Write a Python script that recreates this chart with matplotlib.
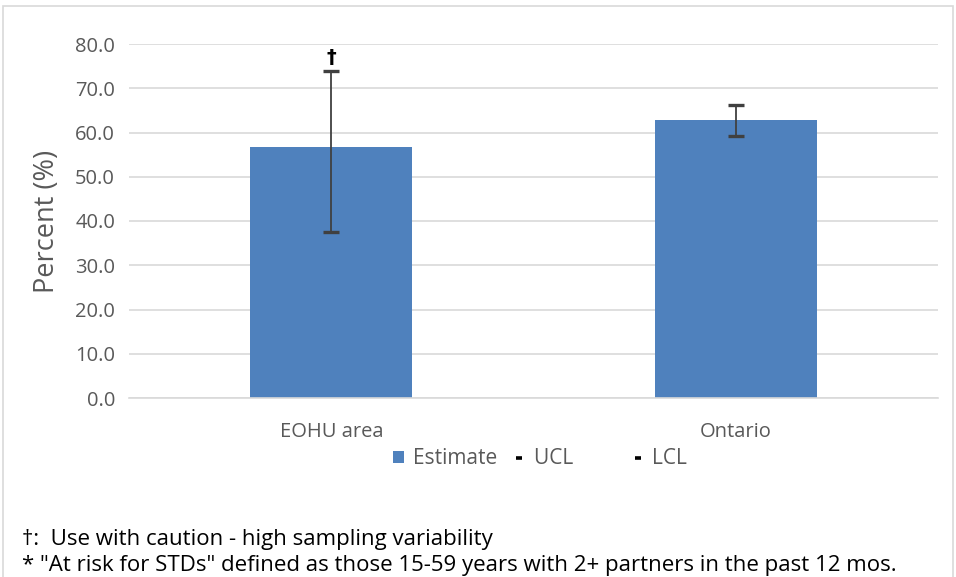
import matplotlib.pyplot as plt
from matplotlib.patches import Patch, Rectangle
from matplotlib.lines import Line2D

plt.rcParams['font.family'] = ['Open Sans', 'DejaVu Sans']

areas = ["EOHU area", "Ontario"]
estimate = [56.7, 62.8]
ucl = [74.0, 66.3]
lcl = [37.5, 59.2]
flags = ["\u2020", ""]
yticks = [0, 10, 20, 30, 40, 50, 60, 70, 80]

grey_text = '#595959'
bar_col = '#4F81BD'

fig = plt.figure(figsize=(9.56, 5.77), dpi=100)
ax = fig.add_axes([129/956, 1-398/577, (938-129)/956, (398-44)/577])

x = list(range(len(areas)))
ax.bar(x, estimate, width=0.4, color=bar_col, zorder=2)
err_lo = [e - l for e, l in zip(estimate, lcl)]
err_hi = [u - e for e, u in zip(estimate, ucl)]
ax.errorbar(x, estimate, yerr=[err_lo, err_hi], fmt='none', ecolor='#404040',
            elinewidth=1.3, capsize=5.5, capthick=2.4, zorder=3)
for i in x:
    if flags[i]:
        ax.annotate(flags[i], (i, ucl[i]), xytext=(0, 2.5), textcoords='offset points',
                    ha='center', va='bottom', fontsize=14, color='black',
                    fontweight='bold', family=['DejaVu Sans'])

ax.set_xlim(-0.5, 1.5)
ax.set_ylim(0, 80)
ax.set_yticks(yticks)
ax.set_yticklabels(["%.1f" % v for v in yticks])
ax.set_xticks(x)
ax.set_xticklabels(areas)
ax.tick_params(axis='both', length=0, labelsize=14.5, colors=grey_text, pad=10)
ax.tick_params(axis='x', pad=17)
ax.grid(axis='y', color='#D9D9D9', linewidth=1.2, zorder=0)
ax.set_axisbelow(True)
for s in ['top', 'right', 'left']:
    ax.spines[s].set_visible(False)
ax.spines['bottom'].set_color('#D9D9D9')
ax.spines['bottom'].set_linewidth(1.2)
ax.set_ylabel("Percent (%)", fontsize=19.5, color=grey_text, labelpad=10)

handles = [Patch(facecolor=bar_col, edgecolor='none'),
           Line2D([], [], color='black', marker='_', linestyle='none', markersize=5, markeredgewidth=2.6),
           Line2D([], [], color='black', marker='_', linestyle='none', markersize=5, markeredgewidth=2.6)]
fig.legend(handles, ["Estimate", "UCL" + " " * 8, "LCL"], ncol=3, loc='center left',
           bbox_to_anchor=(393/956, 1-459/577), frameon=False, fontsize=15,
           labelcolor=grey_text, handlelength=0.55, handleheight=0.55,
           handletextpad=0.4, columnspacing=0.8, borderpad=0, borderaxespad=0)

fig.text(22/956, 1-540/577, "\u2020:  Use with caution - high sampling variability",
         fontsize=16, va='center', ha='left', color='black')
fig.text(22/956, 1-565/577,
         '* "At risk for STDs" defined as those 15-59 years with 2+ partners in the past 12 mos.',
         fontsize=16, va='center', ha='left', color='black')

fig.patches.append(Rectangle((3/956, -0.05), 950/956, 1 - 6/577 + 0.05,
                             transform=fig.transFigure, fill=False,
                             edgecolor='#D9D9D9', linewidth=1.2))

fig.savefig('out.png', dpi=100)
